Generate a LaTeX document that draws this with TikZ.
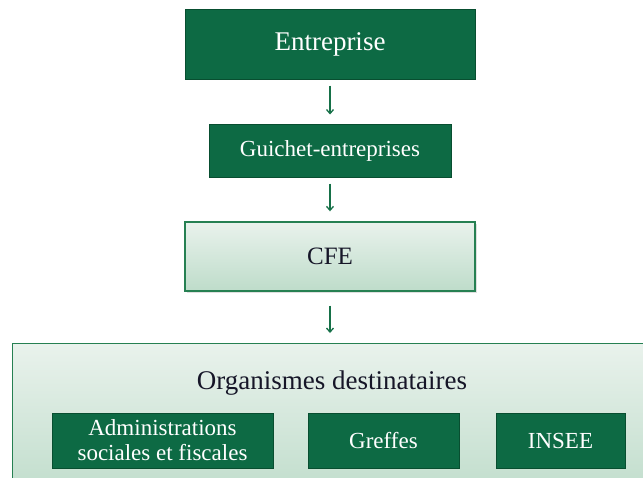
\documentclass[tikz,border=0pt]{standalone}
\usepackage{fontspec}
\setmainfont{Liberation Serif}
\usetikzlibrary{arrows.meta,shadows}

\definecolor{boxgreen}{RGB}{13,106,68}
\definecolor{boxedge}{RGB}{8,78,48}
\definecolor{paletop}{RGB}{233,242,236}
\definecolor{palebot}{RGB}{190,220,202}
\definecolor{paleedge}{RGB}{38,128,82}
\definecolor{arrowgreen}{RGB}{22,112,72}
\definecolor{inktext}{RGB}{22,22,40}

\tikzset{
  darkbox/.style={draw=boxedge, line width=1pt, fill=boxgreen, text=white,
    inner sep=0pt, align=center, font=\fontsize{23}{25}\selectfont},
  palebox/.style={draw=paleedge, line width=1.4pt, top color=paletop, bottom color=palebot,
    inner sep=0pt, text=inktext,
    drop shadow={shadow xshift=1.5pt, shadow yshift=-2pt, opacity=0.25}},
  flow/.style={draw=arrowgreen, line width=1.3pt, -{Straight Barb[length=4pt,width=7pt]}}
}

\begin{document}
\begin{tikzpicture}[x=1pt, y=-1pt]
  \useasboundingbox (0,0) rectangle (643,477);
  \clip (0,0) rectangle (643,477);
  \fill[white] (0,0) rectangle (643,477);

  % chain of boxes
  \node[darkbox, minimum width=290, minimum height=70,
        font=\fontsize{27}{32}\selectfont] (ent) at (330,44) {Entreprise};
  \node[darkbox, minimum width=242, minimum height=53] (gui) at (330,150.5) {Guichet-entreprises};
  \node[palebox, minimum width=290, minimum height=69,
        font=\fontsize{25}{30}\selectfont] (cfe) at (330,256.5) {CFE};

  % receiving bodies
  \node[palebox, anchor=north west, minimum width=658, minimum height=160] (org) at (12,343) {};
  \node[text=inktext, font=\fontsize{27}{32}\selectfont] (orgtitle) at (332,383) {Organismes destinataires};
  \node[darkbox, minimum width=221, minimum height=55] (adm) at (162.5,440.5)
       {Administrations\\sociales et fiscales};
  \node[darkbox, minimum width=151, minimum height=55] (gre) at (383.5,440.5) {Greffes};
  \node[darkbox, minimum width=129, minimum height=55] (ins) at (560.5,440.5) {INSEE};

  % connectors
  \draw[flow, shorten <=6pt, shorten >=9pt] (ent.south) -- (gui.north);
  \draw[flow, shorten <=6pt, shorten >=10pt] (gui.south) -- (cfe.north);
  \draw[flow, shorten <=14pt, shorten >=10pt] (cfe.south) -- (cfe.south |- org.north);
\end{tikzpicture}
\end{document}
